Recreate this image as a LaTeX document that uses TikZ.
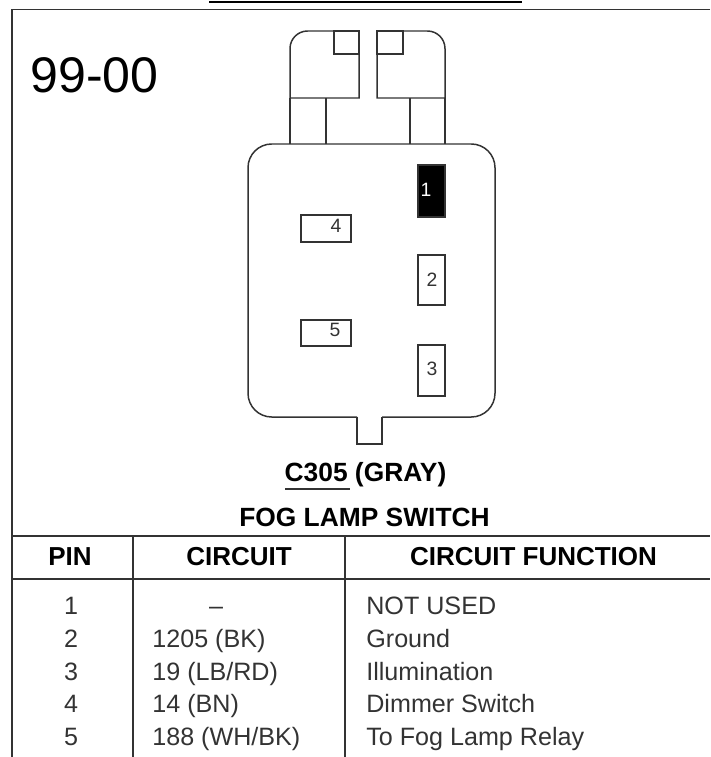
\documentclass[tikz,border=0pt]{standalone}
\usepackage{fontspec}
\setmainfont{Liberation Sans}
\usepackage{tikz}
\usetikzlibrary{positioning}
\definecolor{inkgray}{HTML}{333333}
\tikzset{
  wire/.style={draw=inkgray,line width=0.85pt},
  pinbox/.style={shape=rectangle,draw=inkgray,line width=0.85pt,inner sep=0pt},
  pinnum/.style={inner sep=0pt,text=inkgray,font=\fontsize{11}{13}\selectfont},
  headtext/.style={inner sep=0pt,text=black,text height=10pt,text depth=0pt,font=\fontsize{14.8}{17}\selectfont\bfseries},
  captext/.style={headtext,font=\fontsize{15}{17}\selectfont\bfseries},
  celltext/.style={inner sep=0pt,text=inkgray,text height=10pt,text depth=0pt,font=\fontsize{14.3}{17}\selectfont},
  celltextl/.style={celltext,anchor=west}
}
\begin{document}
\begin{tikzpicture}[x=0.02cm,y=-0.02cm]
    \useasboundingbox (0,0) rectangle (710,757);

    % frame
    \draw[black,line width=1.2pt] (209,1.7) -- (522,1.7);
    \draw[wire,line width=1.1pt] (710,9.5) -- (12,9.5) -- (12,757);

    \node[anchor=west,inner sep=0pt,font=\fontsize{28.5}{32}\selectfont] (year) at (30,75) {99-00};

    % connector tabs
    \draw[wire] (290,98) [rounded corners=10pt] -- (290,31) [sharp corners] -- (359,31) -- (359,98) -- cycle;
    \draw[wire] (445,98) [rounded corners=10pt] -- (445,31) [sharp corners] -- (377,31) -- (377,98) -- cycle;
    \draw[wire] (334,31) rectangle (359,54);
    \draw[wire] (377,31) rectangle (403,54);
    \draw[wire] (290,98) -- (290,144);
    \draw[wire] (326,98) -- (326,144);
    \draw[wire] (410,98) -- (410,144);
    \draw[wire] (445,98) -- (445,144);

    % housing
    \draw[wire,rounded corners=13.5pt] (357,417) -- (248,417) -- (248,144) -- (495,144) -- (495,417) -- (382,417);
    \draw[wire] (357,417) -- (357,444) -- (382,444) -- (382,417);

    % pins
    \node[pinbox,fill=black,minimum width=0.54cm,minimum height=1.04cm] (pin1) at (431.5,191) {};
    \node[pinbox,minimum width=0.54cm,minimum height=1.0cm] (pin2) at (431.5,280) {};
    \node[pinbox,minimum width=0.54cm,minimum height=1.02cm] (pin3) at (431.5,370.5) {};
    \node[pinbox,minimum width=1.0cm,minimum height=0.54cm] (pin4) at (326,228.5) {};
    \node[pinbox,minimum width=1.0cm,minimum height=0.52cm] (pin5) at (326,333) {};
    \node[pinnum,text=white] (num1) at (426,190) {1};
    \node[pinnum] (num2) at (432,280) {2};
    \node[pinnum] (num3) at (432,369) {3};
    \node[pinnum] (num4) at (336,226) {4};
    \node[pinnum] (num5) at (335,330) {5};

    % captions
    \node[captext] (code) at (365.5,473) {C305 (GRAY)};
    \draw[wire,line width=0.7pt] (285,489) -- (350,489);
    \node[captext] (title) at (364.5,518) {FOG LAMP SWITCH};

    % table
    \draw[wire] (12,536) -- (710,536);
    \draw[wire] (12,579) -- (710,579);
    \draw[wire] (133,536) -- (133,757);
    \draw[wire] (345,536) -- (345,757);

    \node[headtext] (hpin) at (70,557) {PIN};
    \node[headtext] (hcircuit) at (239,557) {CIRCUIT};
    \node[headtext] (hfunction) at (533.5,557) {CIRCUIT FUNCTION};

    \node[celltext] (p1) at (71,606) {1};
    \node[celltext] (c1) at (216,606) {–};
    \node[celltextl] (f1) at (366,606) {NOT USED};
    \node[celltext] (p2) at (71,639) {2};
    \node[celltextl] (c2) at (152,639) {1205 (BK)};
    \node[celltextl] (f2) at (366,639) {Ground};
    \node[celltext] (p3) at (71,672) {3};
    \node[celltextl] (c3) at (152,672) {19 (LB/RD)};
    \node[celltextl] (f3) at (366,672) {Illumination};
    \node[celltext] (p4) at (71,704) {4};
    \node[celltextl] (c4) at (152,704) {14 (BN)};
    \node[celltextl] (f4) at (366,704) {Dimmer Switch};
    \node[celltext] (p5) at (71,737) {5};
    \node[celltextl] (c5) at (152,737) {188 (WH/BK)};
    \node[celltextl] (f5) at (366,737) {To Fog Lamp Relay};
\end{tikzpicture}
\end{document}
